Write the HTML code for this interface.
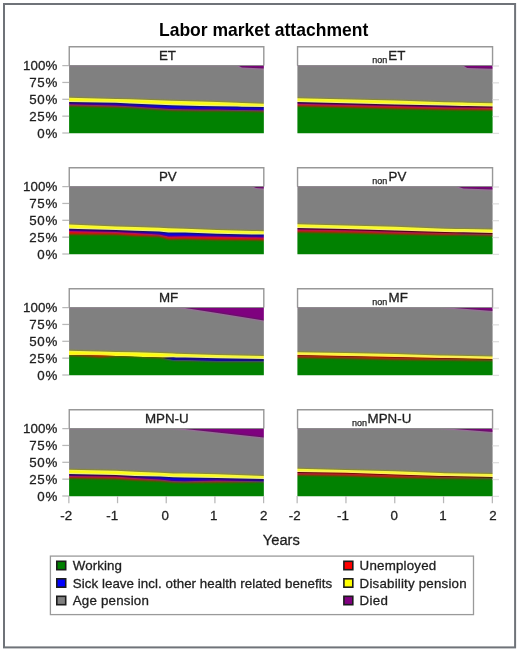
<!DOCTYPE html>
<html><head><meta charset="utf-8"><title>Labor market attachment</title>
<style>
html,body{margin:0;padding:0;background:#fff;}
body{width:520px;height:652px;overflow:hidden;font-family:"Liberation Sans",sans-serif;}
svg{display:block;font-family:"Liberation Sans",sans-serif;}
.t{font-size:13.33px;fill:#1f1f1f;stroke:#1f1f1f;stroke-width:0.3px;}
.ax{stroke:#b8b8b8;stroke-width:1.25;fill:none;}
.axr{stroke:#dedede;stroke-width:1.3;fill:none;}
.bx{fill:#fff;stroke:#989898;stroke-width:1.4;}
</style></head><body>
<svg width="520" height="652" viewBox="0 0 520 652">
<defs><filter id="bl" x="-5%" y="-5%" width="110%" height="110%" color-interpolation-filters="sRGB">
<feGaussianBlur in="SourceGraphic" stdDeviation="0.4" result="S"/>
<feGaussianBlur in="SourceGraphic" stdDeviation="1.1" result="B"/>
<feColorMatrix in="S" type="matrix" values="0.299 0.587 0.114 0 0  0.299 0.587 0.114 0 0  0.299 0.587 0.114 0 0  0 0 0 1 0" result="LS"/>
<feColorMatrix in="B" type="matrix" values="0.299 0.587 0.114 0 0  0.299 0.587 0.114 0 0  0.299 0.587 0.114 0 0  0 0 0 1 0" result="LB"/>
<feComposite in="B" in2="LS" operator="arithmetic" k1="0" k2="0.5" k3="0.5" k4="0" result="T"/>
<feComposite in="T" in2="LB" operator="arithmetic" k1="0" k2="2" k3="-1" k4="0" result="R"/>
<feColorMatrix in="R" type="matrix" values="1 0 0 0 0  0 1 0 0 0  0 0 1 0 0  0 0 0 0 1"/>
</filter>
<clipPath id="cp00"><rect x="69.10" y="65.00" width="194.75" height="68.20"/></clipPath><clipPath id="cp01"><rect x="297.40" y="65.00" width="195.20" height="68.20"/></clipPath><clipPath id="cp10"><rect x="69.10" y="186.00" width="194.75" height="68.20"/></clipPath><clipPath id="cp11"><rect x="297.40" y="186.00" width="195.20" height="68.20"/></clipPath><clipPath id="cp20"><rect x="69.10" y="307.00" width="194.75" height="68.20"/></clipPath><clipPath id="cp21"><rect x="297.40" y="307.00" width="195.20" height="68.20"/></clipPath><clipPath id="cp30"><rect x="69.10" y="428.00" width="194.75" height="68.20"/></clipPath><clipPath id="cp31"><rect x="297.40" y="428.00" width="195.20" height="68.20"/></clipPath></defs>
<rect x="0" y="0" width="520" height="652" fill="#ffffff"/>
<rect x="4" y="4" width="511.1" height="643.4" fill="#ffffff" stroke="#6f7379" stroke-width="2"/>
<g opacity="0.999">
<text x="263.6" y="36.3" text-anchor="middle" font-size="17.52px" font-weight="bold" fill="#000">Labor market attachment</text>

<g>
<path d="M69.25 65.50 V46.70 H263.80 V65.50" class="bx"/>
<g clip-path="url(#cp00)"><g filter="url(#bl)">
<polygon points="59.36,59.00 69.10,59.00 115.84,59.00 129.96,59.00 171.34,59.00 200.07,59.00 217.11,59.00 237.07,59.00 241.94,59.00 263.85,59.00 273.59,59.00 273.59,139.20 263.85,139.20 241.94,139.20 237.07,139.20 217.11,139.20 200.07,139.20 171.34,139.20 129.96,139.20 115.84,139.20 69.10,139.20 59.36,139.20" fill="#808080"/>
<polygon points="59.36,59.00 69.10,59.00 115.84,59.00 129.96,59.00 171.34,59.00 200.07,59.00 217.11,59.00 237.07,59.00 241.94,59.00 263.85,59.00 273.59,59.00 273.59,68.40 263.85,68.40 241.94,67.60 237.07,65.00 217.11,65.00 200.07,65.00 171.34,65.00 129.96,65.00 115.84,65.00 69.10,65.00 59.36,65.00" fill="#800080"/>
<polygon points="59.36,97.80 69.10,97.80 115.84,98.90 129.96,99.20 171.34,100.80 200.07,101.40 217.11,102.00 237.07,102.70 241.94,102.90 263.85,103.70 273.59,103.70 273.59,139.20 263.85,139.20 241.94,139.20 237.07,139.20 217.11,139.20 200.07,139.20 171.34,139.20 129.96,139.20 115.84,139.20 69.10,139.20 59.36,139.20" fill="#ffff00"/>
<polygon points="59.36,102.10 69.10,102.10 115.84,102.80 129.96,103.40 171.34,105.30 200.07,105.90 217.11,106.20 237.07,106.60 241.94,106.70 263.85,107.10 273.59,107.10 273.59,139.20 263.85,139.20 241.94,139.20 237.07,139.20 217.11,139.20 200.07,139.20 171.34,139.20 129.96,139.20 115.84,139.20 69.10,139.20 59.36,139.20" fill="#0000ff"/>
<polygon points="59.36,104.30 69.10,104.30 115.84,105.50 129.96,106.20 171.34,109.00 200.07,109.50 217.11,109.60 237.07,109.90 241.94,110.00 263.85,110.20 273.59,110.20 273.59,139.20 263.85,139.20 241.94,139.20 237.07,139.20 217.11,139.20 200.07,139.20 171.34,139.20 129.96,139.20 115.84,139.20 69.10,139.20 59.36,139.20" fill="#ff0000"/>
<polygon points="59.36,105.65 69.10,105.65 115.84,106.90 129.96,107.50 171.34,110.30 200.07,110.70 217.11,110.70 237.07,111.00 241.94,111.10 263.85,111.40 273.59,111.40 273.59,139.20 263.85,139.20 241.94,139.20 237.07,139.20 217.11,139.20 200.07,139.20 171.34,139.20 129.96,139.20 115.84,139.20 69.10,139.20 59.36,139.20" fill="#008000"/>
</g></g>
<line x1="69.10" y1="65.50" x2="263.85" y2="65.50" stroke="#8e8e8e" stroke-width="1.2" opacity="0.95"/>
<text x="158.90" y="60.40" class="t">ET</text>
<line x1="62.30" y1="65.60" x2="69.10" y2="65.60" class="ax"/>
<text x="22.90" y="70.40" class="t" textLength="34.4" lengthAdjust="spacing">100%</text>
<line x1="62.30" y1="82.45" x2="69.10" y2="82.45" class="ax"/>
<text x="29.30" y="87.25" class="t" textLength="28.0" lengthAdjust="spacing">75%</text>
<line x1="62.30" y1="99.30" x2="69.10" y2="99.30" class="ax"/>
<text x="29.30" y="104.10" class="t" textLength="28.0" lengthAdjust="spacing">50%</text>
<line x1="62.30" y1="116.15" x2="69.10" y2="116.15" class="ax"/>
<text x="29.30" y="120.95" class="t" textLength="28.0" lengthAdjust="spacing">25%</text>
<line x1="62.30" y1="133.00" x2="69.10" y2="133.00" class="ax"/>
<text x="37.30" y="137.80" class="t" textLength="20.0" lengthAdjust="spacing">0%</text>
</g>
<g>
<path d="M297.55 65.50 V46.70 H492.55 V65.50" class="bx"/>
<g clip-path="url(#cp01)"><g filter="url(#bl)">
<polygon points="287.64,59.00 297.40,59.00 395.00,59.00 444.78,59.00 462.34,59.00 467.22,59.00 492.60,59.00 502.36,59.00 502.36,139.20 492.60,139.20 467.22,139.20 462.34,139.20 444.78,139.20 395.00,139.20 297.40,139.20 287.64,139.20" fill="#808080"/>
<polygon points="287.64,59.00 297.40,59.00 395.00,59.00 444.78,59.00 462.34,59.00 467.22,59.00 492.60,59.00 502.36,59.00 502.36,68.75 492.60,68.75 467.22,68.00 462.34,65.00 444.78,65.00 395.00,65.00 297.40,65.00 287.64,65.00" fill="#800080"/>
<polygon points="287.64,98.25 297.40,98.25 395.00,100.50 444.78,102.25 462.34,102.60 467.22,102.70 492.60,103.20 502.36,103.20 502.36,139.20 492.60,139.20 467.22,139.20 462.34,139.20 444.78,139.20 395.00,139.20 297.40,139.20 287.64,139.20" fill="#ffff00"/>
<polygon points="287.64,102.10 297.40,102.10 395.00,104.40 444.78,105.60 462.34,105.90 467.22,106.00 492.60,106.40 502.36,106.40 502.36,139.20 492.60,139.20 467.22,139.20 462.34,139.20 444.78,139.20 395.00,139.20 297.40,139.20 287.64,139.20" fill="#0000ff"/>
<polygon points="287.64,103.70 297.40,103.70 395.00,106.00 444.78,107.30 462.34,107.45 467.22,107.50 492.60,107.70 502.36,107.70 502.36,139.20 492.60,139.20 467.22,139.20 462.34,139.20 444.78,139.20 395.00,139.20 297.40,139.20 287.64,139.20" fill="#ff0000"/>
<polygon points="287.64,105.90 297.40,105.90 395.00,108.40 444.78,109.50 462.34,109.65 467.22,109.70 492.60,109.90 502.36,109.90 502.36,139.20 492.60,139.20 467.22,139.20 462.34,139.20 444.78,139.20 395.00,139.20 297.40,139.20 287.64,139.20" fill="#008000"/>
</g></g>
<line x1="297.40" y1="65.50" x2="492.60" y2="65.50" stroke="#8e8e8e" stroke-width="1.2" opacity="0.95"/>
<text x="372.20" y="63.20" font-size="9px" fill="#1f1f1f" stroke="#1f1f1f" stroke-width="0.25">non</text>
<text x="388.30" y="60.30" class="t">ET</text>
<line x1="492.60" y1="66.00" x2="499.00" y2="66.00" class="axr"/>
<line x1="492.60" y1="82.85" x2="499.00" y2="82.85" class="axr"/>
<line x1="492.60" y1="99.70" x2="499.00" y2="99.70" class="axr"/>
<line x1="492.60" y1="116.55" x2="499.00" y2="116.55" class="axr"/>
<line x1="492.60" y1="133.40" x2="499.00" y2="133.40" class="axr"/>
</g>
<g>
<path d="M69.25 186.50 V167.70 H263.80 V186.50" class="bx"/>
<g clip-path="url(#cp10)"><g filter="url(#bl)">
<polygon points="59.36,180.00 69.10,180.00 115.84,180.00 134.83,180.00 159.17,180.00 168.42,180.00 184.98,180.00 217.11,180.00 251.68,180.00 256.06,180.00 263.85,180.00 273.59,180.00 273.59,260.20 263.85,260.20 256.06,260.20 251.68,260.20 217.11,260.20 184.98,260.20 168.42,260.20 159.17,260.20 134.83,260.20 115.84,260.20 69.10,260.20 59.36,260.20" fill="#808080"/>
<polygon points="59.36,180.00 69.10,180.00 115.84,180.00 134.83,180.00 159.17,180.00 168.42,180.00 184.98,180.00 217.11,180.00 251.68,180.00 256.06,180.00 263.85,180.00 273.59,180.00 273.59,188.40 263.85,188.40 256.06,188.00 251.68,186.00 217.11,186.00 184.98,186.00 168.42,186.00 159.17,186.00 134.83,186.00 115.84,186.00 69.10,186.00 59.36,186.00" fill="#800080"/>
<polygon points="59.36,224.50 69.10,224.50 115.84,226.50 134.83,226.90 159.17,227.80 168.42,228.25 184.98,228.70 217.11,230.00 251.68,230.90 256.06,231.00 263.85,231.20 273.59,231.20 273.59,260.20 263.85,260.20 256.06,260.20 251.68,260.20 217.11,260.20 184.98,260.20 168.42,260.20 159.17,260.20 134.83,260.20 115.84,260.20 69.10,260.20 59.36,260.20" fill="#ffff00"/>
<polygon points="59.36,228.80 69.10,228.80 115.84,230.00 134.83,230.65 159.17,231.60 168.42,232.40 184.98,232.60 217.11,233.80 251.68,234.40 256.06,234.45 263.85,234.60 273.59,234.60 273.59,260.20 263.85,260.20 256.06,260.20 251.68,260.20 217.11,260.20 184.98,260.20 168.42,260.20 159.17,260.20 134.83,260.20 115.84,260.20 69.10,260.20 59.36,260.20" fill="#0000ff"/>
<polygon points="59.36,231.00 69.10,231.00 115.84,231.90 134.83,233.00 159.17,234.50 168.42,236.40 184.98,236.30 217.11,236.60 251.68,237.30 256.06,237.35 263.85,237.50 273.59,237.50 273.59,260.20 263.85,260.20 256.06,260.20 251.68,260.20 217.11,260.20 184.98,260.20 168.42,260.20 159.17,260.20 134.83,260.20 115.84,260.20 69.10,260.20 59.36,260.20" fill="#ff0000"/>
<polygon points="59.36,234.15 69.10,234.15 115.84,234.60 134.83,235.70 159.17,236.40 168.42,239.20 184.98,238.90 217.11,239.80 251.68,240.10 256.06,240.10 263.85,240.15 273.59,240.15 273.59,260.20 263.85,260.20 256.06,260.20 251.68,260.20 217.11,260.20 184.98,260.20 168.42,260.20 159.17,260.20 134.83,260.20 115.84,260.20 69.10,260.20 59.36,260.20" fill="#008000"/>
</g></g>
<line x1="69.10" y1="186.50" x2="263.85" y2="186.50" stroke="#8e8e8e" stroke-width="1.2" opacity="0.95"/>
<text x="158.90" y="181.40" class="t">PV</text>
<line x1="62.30" y1="186.60" x2="69.10" y2="186.60" class="ax"/>
<text x="22.90" y="191.40" class="t" textLength="34.4" lengthAdjust="spacing">100%</text>
<line x1="62.30" y1="203.45" x2="69.10" y2="203.45" class="ax"/>
<text x="29.30" y="208.25" class="t" textLength="28.0" lengthAdjust="spacing">75%</text>
<line x1="62.30" y1="220.30" x2="69.10" y2="220.30" class="ax"/>
<text x="29.30" y="225.10" class="t" textLength="28.0" lengthAdjust="spacing">50%</text>
<line x1="62.30" y1="237.15" x2="69.10" y2="237.15" class="ax"/>
<text x="29.30" y="241.95" class="t" textLength="28.0" lengthAdjust="spacing">25%</text>
<line x1="62.30" y1="254.00" x2="69.10" y2="254.00" class="ax"/>
<text x="37.30" y="258.80" class="t" textLength="20.0" lengthAdjust="spacing">0%</text>
</g>
<g>
<path d="M297.55 186.50 V167.70 H492.55 V186.50" class="bx"/>
<g clip-path="url(#cp11)"><g filter="url(#bl)">
<polygon points="287.64,180.00 297.40,180.00 345.22,180.00 395.00,180.00 444.78,180.00 456.00,180.00 463.32,180.00 492.60,180.00 502.36,180.00 502.36,260.20 492.60,260.20 463.32,260.20 456.00,260.20 444.78,260.20 395.00,260.20 345.22,260.20 297.40,260.20 287.64,260.20" fill="#808080"/>
<polygon points="287.64,180.00 297.40,180.00 345.22,180.00 395.00,180.00 444.78,180.00 456.00,180.00 463.32,180.00 492.60,180.00 502.36,180.00 502.36,189.60 492.60,189.60 463.32,188.60 456.00,186.00 444.78,186.00 395.00,186.00 345.22,186.00 297.40,186.00 287.64,186.00" fill="#800080"/>
<polygon points="287.64,224.20 297.40,224.20 345.22,225.60 395.00,226.65 444.78,228.65 456.00,228.90 463.32,229.05 492.60,229.60 502.36,229.60 502.36,260.20 492.60,260.20 463.32,260.20 456.00,260.20 444.78,260.20 395.00,260.20 345.22,260.20 297.40,260.20 287.64,260.20" fill="#ffff00"/>
<polygon points="287.64,228.00 297.40,228.00 345.22,229.00 395.00,230.50 444.78,232.00 456.00,232.20 463.32,232.35 492.60,233.00 502.36,233.00 502.36,260.20 492.60,260.20 463.32,260.20 456.00,260.20 444.78,260.20 395.00,260.20 345.22,260.20 297.40,260.20 287.64,260.20" fill="#0000ff"/>
<polygon points="287.64,229.40 297.40,229.40 345.22,230.30 395.00,231.70 444.78,233.10 456.00,233.30 463.32,233.45 492.60,234.00 502.36,234.00 502.36,260.20 492.60,260.20 463.32,260.20 456.00,260.20 444.78,260.20 395.00,260.20 345.22,260.20 297.40,260.20 287.64,260.20" fill="#ff0000"/>
<polygon points="287.64,231.90 297.40,231.90 345.22,232.80 395.00,233.90 444.78,234.90 456.00,235.00 463.32,235.10 492.60,235.40 502.36,235.40 502.36,260.20 492.60,260.20 463.32,260.20 456.00,260.20 444.78,260.20 395.00,260.20 345.22,260.20 297.40,260.20 287.64,260.20" fill="#008000"/>
</g></g>
<line x1="297.40" y1="186.50" x2="492.60" y2="186.50" stroke="#8e8e8e" stroke-width="1.2" opacity="0.95"/>
<text x="372.20" y="184.20" font-size="9px" fill="#1f1f1f" stroke="#1f1f1f" stroke-width="0.25">non</text>
<text x="388.60" y="181.30" class="t">PV</text>
<line x1="492.60" y1="187.00" x2="499.00" y2="187.00" class="axr"/>
<line x1="492.60" y1="203.85" x2="499.00" y2="203.85" class="axr"/>
<line x1="492.60" y1="220.70" x2="499.00" y2="220.70" class="axr"/>
<line x1="492.60" y1="237.55" x2="499.00" y2="237.55" class="axr"/>
<line x1="492.60" y1="254.40" x2="499.00" y2="254.40" class="axr"/>
</g>
<g>
<path d="M69.25 307.50 V288.70 H263.80 V307.50" class="bx"/>
<g clip-path="url(#cp20)"><g filter="url(#bl)">
<polygon points="59.36,301.00 69.10,301.00 88.57,301.00 99.77,301.00 115.84,301.00 134.83,301.00 160.15,301.00 173.29,301.00 176.21,301.00 184.98,301.00 217.11,301.00 263.85,301.00 273.59,301.00 273.59,381.20 263.85,381.20 217.11,381.20 184.98,381.20 176.21,381.20 173.29,381.20 160.15,381.20 134.83,381.20 115.84,381.20 99.77,381.20 88.57,381.20 69.10,381.20 59.36,381.20" fill="#808080"/>
<polygon points="59.36,301.00 69.10,301.00 88.57,301.00 99.77,301.00 115.84,301.00 134.83,301.00 160.15,301.00 173.29,301.00 176.21,301.00 184.98,301.00 217.11,301.00 263.85,301.00 273.59,301.00 273.59,320.50 263.85,320.50 217.11,312.90 184.98,307.90 176.21,307.00 173.29,307.00 160.15,307.00 134.83,307.00 115.84,307.00 99.77,307.00 88.57,307.00 69.10,307.00 59.36,307.00" fill="#800080"/>
<polygon points="59.36,350.65 69.10,350.65 88.57,351.20 99.77,351.60 115.84,352.10 134.83,352.20 160.15,353.10 173.29,353.60 176.21,353.70 184.98,354.10 217.11,355.10 263.85,356.10 273.59,356.10 273.59,381.20 263.85,381.20 217.11,381.20 184.98,381.20 176.21,381.20 173.29,381.20 160.15,381.20 134.83,381.20 115.84,381.20 99.77,381.20 88.57,381.20 69.10,381.20 59.36,381.20" fill="#ffff00"/>
<polygon points="59.36,355.10 69.10,355.10 88.57,355.30 99.77,355.60 115.84,356.10 134.83,356.70 160.15,357.60 173.29,357.30 176.21,357.40 184.98,357.50 217.11,358.30 263.85,359.00 273.59,359.00 273.59,381.20 263.85,381.20 217.11,381.20 184.98,381.20 176.21,381.20 173.29,381.20 160.15,381.20 134.83,381.20 115.84,381.20 99.77,381.20 88.57,381.20 69.10,381.20 59.36,381.20" fill="#0000ff"/>
<polygon points="59.36,355.10 69.10,355.10 88.57,355.30 99.77,355.60 115.84,356.10 134.83,356.70 160.15,357.60 173.29,360.10 176.21,360.10 184.98,360.10 217.11,361.10 263.85,361.10 273.59,361.10 273.59,381.20 263.85,381.20 217.11,381.20 184.98,381.20 176.21,381.20 173.29,381.20 160.15,381.20 134.83,381.20 115.84,381.20 99.77,381.20 88.57,381.20 69.10,381.20 59.36,381.20" fill="#ff0000"/>
<polygon points="59.36,355.50 69.10,355.50 88.57,356.40 99.77,357.20 115.84,356.60 134.83,357.00 160.15,357.90 173.29,360.35 176.21,360.40 184.98,360.40 217.11,361.40 263.85,361.40 273.59,361.40 273.59,381.20 263.85,381.20 217.11,381.20 184.98,381.20 176.21,381.20 173.29,381.20 160.15,381.20 134.83,381.20 115.84,381.20 99.77,381.20 88.57,381.20 69.10,381.20 59.36,381.20" fill="#008000"/>
</g></g>
<line x1="69.10" y1="307.50" x2="263.85" y2="307.50" stroke="#8e8e8e" stroke-width="1.2" opacity="0.95"/>
<text x="158.90" y="302.40" class="t">MF</text>
<line x1="62.30" y1="307.60" x2="69.10" y2="307.60" class="ax"/>
<text x="22.90" y="312.40" class="t" textLength="34.4" lengthAdjust="spacing">100%</text>
<line x1="62.30" y1="324.45" x2="69.10" y2="324.45" class="ax"/>
<text x="29.30" y="329.25" class="t" textLength="28.0" lengthAdjust="spacing">75%</text>
<line x1="62.30" y1="341.30" x2="69.10" y2="341.30" class="ax"/>
<text x="29.30" y="346.10" class="t" textLength="28.0" lengthAdjust="spacing">50%</text>
<line x1="62.30" y1="358.15" x2="69.10" y2="358.15" class="ax"/>
<text x="29.30" y="362.95" class="t" textLength="28.0" lengthAdjust="spacing">25%</text>
<line x1="62.30" y1="375.00" x2="69.10" y2="375.00" class="ax"/>
<text x="37.30" y="379.80" class="t" textLength="20.0" lengthAdjust="spacing">0%</text>
</g>
<g>
<path d="M297.55 307.50 V288.70 H492.55 V307.50" class="bx"/>
<g clip-path="url(#cp21)"><g filter="url(#bl)">
<polygon points="287.64,301.00 297.40,301.00 345.22,301.00 395.00,301.00 440.38,301.00 444.78,301.00 492.60,301.00 502.36,301.00 502.36,381.20 492.60,381.20 444.78,381.20 440.38,381.20 395.00,381.20 345.22,381.20 297.40,381.20 287.64,381.20" fill="#808080"/>
<polygon points="287.64,301.00 297.40,301.00 345.22,301.00 395.00,301.00 440.38,301.00 444.78,301.00 492.60,301.00 502.36,301.00 502.36,311.00 492.60,311.00 444.78,307.30 440.38,307.00 395.00,307.00 345.22,307.00 297.40,307.00 287.64,307.00" fill="#800080"/>
<polygon points="287.64,352.20 297.40,352.20 345.22,353.10 395.00,354.10 440.38,355.45 444.78,355.60 492.60,356.60 502.36,356.60 502.36,381.20 492.60,381.20 444.78,381.20 440.38,381.20 395.00,381.20 345.22,381.20 297.40,381.20 287.64,381.20" fill="#ffff00"/>
<polygon points="287.64,355.00 297.40,355.00 345.22,356.00 395.00,357.00 440.38,357.90 444.78,358.00 492.60,359.00 502.36,359.00 502.36,381.20 492.60,381.20 444.78,381.20 440.38,381.20 395.00,381.20 345.22,381.20 297.40,381.20 287.64,381.20" fill="#0000ff"/>
<polygon points="287.64,355.50 297.40,355.50 345.22,356.50 395.00,357.50 440.38,358.40 444.78,358.50 492.60,359.40 502.36,359.40 502.36,381.20 492.60,381.20 444.78,381.20 440.38,381.20 395.00,381.20 345.22,381.20 297.40,381.20 287.64,381.20" fill="#ff0000"/>
<polygon points="287.64,357.50 297.40,357.50 345.22,358.20 395.00,359.40 440.38,360.00 444.78,360.10 492.60,360.40 502.36,360.40 502.36,381.20 492.60,381.20 444.78,381.20 440.38,381.20 395.00,381.20 345.22,381.20 297.40,381.20 287.64,381.20" fill="#008000"/>
</g></g>
<line x1="297.40" y1="307.50" x2="492.60" y2="307.50" stroke="#8e8e8e" stroke-width="1.2" opacity="0.95"/>
<text x="372.20" y="305.20" font-size="9px" fill="#1f1f1f" stroke="#1f1f1f" stroke-width="0.25">non</text>
<text x="388.60" y="302.30" class="t">MF</text>
<line x1="492.60" y1="308.00" x2="499.00" y2="308.00" class="axr"/>
<line x1="492.60" y1="324.85" x2="499.00" y2="324.85" class="axr"/>
<line x1="492.60" y1="341.70" x2="499.00" y2="341.70" class="axr"/>
<line x1="492.60" y1="358.55" x2="499.00" y2="358.55" class="axr"/>
<line x1="492.60" y1="375.40" x2="499.00" y2="375.40" class="axr"/>
</g>
<g>
<path d="M69.25 428.50 V409.70 H263.80 V428.50" class="bx"/>
<g clip-path="url(#cp30)"><g filter="url(#bl)">
<polygon points="59.36,422.00 69.10,422.00 115.84,422.00 134.83,422.00 160.15,422.00 173.29,422.00 184.98,422.00 217.11,422.00 263.85,422.00 273.59,422.00 273.59,502.20 263.85,502.20 217.11,502.20 184.98,502.20 173.29,502.20 160.15,502.20 134.83,502.20 115.84,502.20 69.10,502.20 59.36,502.20" fill="#808080"/>
<polygon points="59.36,422.00 69.10,422.00 115.84,422.00 134.83,422.00 160.15,422.00 173.29,422.00 184.98,422.00 217.11,422.00 263.85,422.00 273.59,422.00 273.59,437.60 263.85,437.60 217.11,432.60 184.98,429.10 173.29,428.00 160.15,428.00 134.83,428.00 115.84,428.00 69.10,428.00 59.36,428.00" fill="#800080"/>
<polygon points="59.36,469.70 69.10,469.70 115.84,470.85 134.83,471.70 160.15,472.65 173.29,473.40 184.98,473.60 217.11,474.20 263.85,476.10 273.59,476.10 273.59,502.20 263.85,502.20 217.11,502.20 184.98,502.20 173.29,502.20 160.15,502.20 134.83,502.20 115.84,502.20 69.10,502.20 59.36,502.20" fill="#ffff00"/>
<polygon points="59.36,474.00 69.10,474.00 115.84,475.00 134.83,476.00 160.15,476.50 173.29,477.30 184.98,477.50 217.11,478.00 263.85,479.00 273.59,479.00 273.59,502.20 263.85,502.20 217.11,502.20 184.98,502.20 173.29,502.20 160.15,502.20 134.83,502.20 115.84,502.20 69.10,502.20 59.36,502.20" fill="#0000ff"/>
<polygon points="59.36,475.90 69.10,475.90 115.84,476.40 134.83,477.90 160.15,479.40 173.29,481.10 184.98,481.30 217.11,480.60 263.85,481.20 273.59,481.20 273.59,502.20 263.85,502.20 217.11,502.20 184.98,502.20 173.29,502.20 160.15,502.20 134.83,502.20 115.84,502.20 69.10,502.20 59.36,502.20" fill="#ff0000"/>
<polygon points="59.36,477.90 69.10,477.90 115.84,478.80 134.83,479.90 160.15,481.10 173.29,482.30 184.98,482.50 217.11,482.15 263.85,481.90 273.59,481.90 273.59,502.20 263.85,502.20 217.11,502.20 184.98,502.20 173.29,502.20 160.15,502.20 134.83,502.20 115.84,502.20 69.10,502.20 59.36,502.20" fill="#008000"/>
</g></g>
<line x1="69.10" y1="428.50" x2="263.85" y2="428.50" stroke="#8e8e8e" stroke-width="1.2" opacity="0.95"/>
<text x="145.00" y="423.40" class="t">MPN-U</text>
<line x1="62.30" y1="428.60" x2="69.10" y2="428.60" class="ax"/>
<text x="22.90" y="433.40" class="t" textLength="34.4" lengthAdjust="spacing">100%</text>
<line x1="62.30" y1="445.45" x2="69.10" y2="445.45" class="ax"/>
<text x="29.30" y="450.25" class="t" textLength="28.0" lengthAdjust="spacing">75%</text>
<line x1="62.30" y1="462.30" x2="69.10" y2="462.30" class="ax"/>
<text x="29.30" y="467.10" class="t" textLength="28.0" lengthAdjust="spacing">50%</text>
<line x1="62.30" y1="479.15" x2="69.10" y2="479.15" class="ax"/>
<text x="29.30" y="483.95" class="t" textLength="28.0" lengthAdjust="spacing">25%</text>
<line x1="62.30" y1="496.00" x2="69.10" y2="496.00" class="ax"/>
<text x="37.30" y="500.80" class="t" textLength="20.0" lengthAdjust="spacing">0%</text>
<line x1="68.85" y1="496.00" x2="68.85" y2="503.20" class="ax"/>
<text x="66.25" y="519.80" text-anchor="middle" class="t">-2</text>
<line x1="117.54" y1="496.00" x2="117.54" y2="503.20" class="ax"/>
<text x="112.14" y="519.80" text-anchor="middle" class="t">-1</text>
<line x1="166.23" y1="496.00" x2="166.23" y2="503.20" class="ax"/>
<text x="165.33" y="519.80" text-anchor="middle" class="t">0</text>
<line x1="214.91" y1="496.00" x2="214.91" y2="503.20" class="ax"/>
<text x="213.81" y="519.80" text-anchor="middle" class="t">1</text>
<line x1="263.60" y1="496.00" x2="263.60" y2="503.20" class="ax"/>
<text x="263.80" y="519.80" text-anchor="middle" class="t">2</text>
</g>
<g>
<path d="M297.55 428.50 V409.70 H492.55 V428.50" class="bx"/>
<g clip-path="url(#cp31)"><g filter="url(#bl)">
<polygon points="287.64,422.00 297.40,422.00 345.22,422.00 395.00,422.00 440.38,422.00 444.78,422.00 492.60,422.00 502.36,422.00 502.36,502.20 492.60,502.20 444.78,502.20 440.38,502.20 395.00,502.20 345.22,502.20 297.40,502.20 287.64,502.20" fill="#808080"/>
<polygon points="287.64,422.00 297.40,422.00 345.22,422.00 395.00,422.00 440.38,422.00 444.78,422.00 492.60,422.00 502.36,422.00 502.36,432.00 492.60,432.00 444.78,428.30 440.38,428.00 395.00,428.00 345.22,428.00 297.40,428.00 287.64,428.00" fill="#800080"/>
<polygon points="287.64,468.70 297.40,468.70 345.22,469.90 395.00,471.20 440.38,473.00 444.78,473.20 492.60,474.10 502.36,474.10 502.36,502.20 492.60,502.20 444.78,502.20 440.38,502.20 395.00,502.20 345.22,502.20 297.40,502.20 287.64,502.20" fill="#ffff00"/>
<polygon points="287.64,472.10 297.40,472.10 345.22,472.80 395.00,474.40 440.38,475.95 444.78,476.10 492.60,477.00 502.36,477.00 502.36,502.20 492.60,502.20 444.78,502.20 440.38,502.20 395.00,502.20 345.22,502.20 297.40,502.20 287.64,502.20" fill="#0000ff"/>
<polygon points="287.64,472.90 297.40,472.90 345.22,473.60 395.00,475.20 440.38,476.70 444.78,476.80 492.60,477.70 502.36,477.70 502.36,502.20 492.60,502.20 444.78,502.20 440.38,502.20 395.00,502.20 345.22,502.20 297.40,502.20 287.64,502.20" fill="#ff0000"/>
<polygon points="287.64,475.00 297.40,475.00 345.22,475.65 395.00,477.50 440.38,478.20 444.78,478.30 492.60,478.50 502.36,478.50 502.36,502.20 492.60,502.20 444.78,502.20 440.38,502.20 395.00,502.20 345.22,502.20 297.40,502.20 287.64,502.20" fill="#008000"/>
</g></g>
<line x1="297.40" y1="428.50" x2="492.60" y2="428.50" stroke="#8e8e8e" stroke-width="1.2" opacity="0.95"/>
<text x="352.10" y="426.20" font-size="9px" fill="#1f1f1f" stroke="#1f1f1f" stroke-width="0.25">non</text>
<text x="367.60" y="423.30" class="t">MPN-U</text>
<line x1="492.60" y1="429.00" x2="499.00" y2="429.00" class="axr"/>
<line x1="492.60" y1="445.85" x2="499.00" y2="445.85" class="axr"/>
<line x1="492.60" y1="462.70" x2="499.00" y2="462.70" class="axr"/>
<line x1="492.60" y1="479.55" x2="499.00" y2="479.55" class="axr"/>
<line x1="492.60" y1="496.40" x2="499.00" y2="496.40" class="axr"/>
<line x1="297.15" y1="496.00" x2="297.15" y2="503.20" class="ax"/>
<text x="294.75" y="519.80" text-anchor="middle" class="t">-2</text>
<line x1="345.95" y1="496.00" x2="345.95" y2="503.20" class="ax"/>
<text x="343.05" y="519.80" text-anchor="middle" class="t">-1</text>
<line x1="394.75" y1="496.00" x2="394.75" y2="503.20" class="ax"/>
<text x="394.25" y="519.80" text-anchor="middle" class="t">0</text>
<line x1="443.55" y1="496.00" x2="443.55" y2="503.20" class="ax"/>
<text x="442.95" y="519.80" text-anchor="middle" class="t">1</text>
<line x1="492.35" y1="496.00" x2="492.35" y2="503.20" class="ax"/>
<text x="492.95" y="519.80" text-anchor="middle" class="t">2</text>
</g>
<text x="281.3" y="545.3" text-anchor="middle" font-size="14.67px" fill="#1f1f1f" stroke="#1f1f1f" stroke-width="0.3">Years</text>
<rect x="50.4" y="556.1" width="423.1" height="58.5" fill="#fff" stroke="#9a9a9a" stroke-width="1.3"/>
<rect x="56.80" y="561.30" width="8.9" height="8.4" fill="#008000" stroke="#1c1c1c" stroke-width="1.6"/>
<text x="72.80" y="570.00" class="t" textLength="49.2" lengthAdjust="spacing">Working</text>
<rect x="56.80" y="578.80" width="8.9" height="8.4" fill="#0000ff" stroke="#1c1c1c" stroke-width="1.6"/>
<text x="72.80" y="587.50" class="t" textLength="259.3" lengthAdjust="spacing">Sick leave incl. other health related benefits</text>
<rect x="56.80" y="596.30" width="8.9" height="8.4" fill="#808080" stroke="#1c1c1c" stroke-width="1.6"/>
<text x="72.80" y="605.00" class="t" textLength="76.0" lengthAdjust="spacing">Age pension</text>
<rect x="343.90" y="561.30" width="8.9" height="8.4" fill="#ff0000" stroke="#1c1c1c" stroke-width="1.6"/>
<text x="359.60" y="570.00" class="t" textLength="76.6" lengthAdjust="spacing">Unemployed</text>
<rect x="343.90" y="578.80" width="8.9" height="8.4" fill="#ffff00" stroke="#1c1c1c" stroke-width="1.6"/>
<text x="359.60" y="587.50" class="t" textLength="107.0" lengthAdjust="spacing">Disability pension</text>
<rect x="343.90" y="596.30" width="8.9" height="8.4" fill="#800080" stroke="#1c1c1c" stroke-width="1.6"/>
<text x="359.60" y="605.00" class="t" textLength="28.2" lengthAdjust="spacing">Died</text>
</g></svg></body></html>
